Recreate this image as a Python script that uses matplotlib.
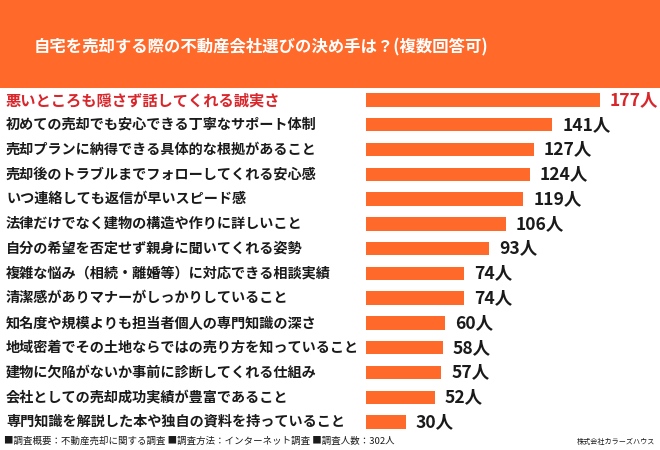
import matplotlib.pyplot as plt
from matplotlib.patches import Rectangle
from matplotlib.transforms import blended_transform_factory

plt.rcParams['font.family'] = ['Noto Sans CJK JP', 'DejaVu Sans']

title = "自宅を売却する際の不動産会社選びの決め手は？(複数回答可)"
labels = [
    "悪いところも隠さず話してくれる誠実さ",
    "初めての売却でも安心できる丁寧なサポート体制",
    "売却プランに納得できる具体的な根拠があること",
    "売却後のトラブルまでフォローしてくれる安心感",
    "いつ連絡しても返信が早いスピード感",
    "法律だけでなく建物の構造や作りに詳しいこと",
    "自分の希望を否定せず親身に聞いてくれる姿勢",
    "複雑な悩み（相続・離婚等）に対応できる相談実績",
    "清潔感がありマナーがしっかりしていること",
    "知名度や規模よりも担当者個人の専門知識の深さ",
    "地域密着でその土地ならではの売り方を知っていること",
    "建物に欠陥がないか事前に診断してくれる仕組み",
    "会社としての売却成功実績が豊富であること",
    "専門知識を解説した本や独自の資料を持っていること",
]
values = [177, 141, 127, 124, 119, 106, 93, 74, 74, 60, 58, 57, 52, 30]
footer = "■調査概要：不動産売却に関する調査 ■調査方法：インターネット調査 ■調査人数：302人"
credit = "株式会社カラーズハウス"

orange = "#FF6A2A"
red = "#D8262B"
dark = "#1A1A1A"

fig = plt.figure(figsize=(6.6, 4.5), dpi=100)
fig.patch.set_facecolor("white")

# header band
fig.patches.append(Rectangle((0, 1 - 88 / 450), 1, 88 / 450, transform=fig.transFigure,
                             facecolor=orange, edgecolor="none", zorder=0))
fig.text(261 / 660, 1 - 47 / 450, title, color="white", fontsize=11.8, fontweight="bold",
         ha="center", va="center")

ax = fig.add_axes([366 / 660, 1 - 434.4 / 450, 294 / 660, 346.8 / 450])
ax.barh(range(len(values)), values, height=0.54, color=orange)
ax.set_xlim(0, 177 * 294 / 234)
ax.set_ylim(len(values) - 0.5, -0.5)
ax.axis("off")

tr = blended_transform_factory(fig.transFigure, ax.transData)
for i, (lab, v) in enumerate(zip(labels, values)):
    c = red if i == 0 else dark
    ax.text(6 / 660, i, lab, transform=tr, color=c, fontsize=11 if i == 0 else 10.2,
            fontweight="bold", ha="left", va="center")
    ax.text(v + 7.5, i, f"{v}人", color=c, fontsize=12.6, fontweight="bold",
            ha="left", va="center", clip_on=False)

fig.text(4 / 660, 1 - 441 / 450, footer, color=dark, fontsize=6.8, ha="left", va="center")
fig.text(655 / 660, 1 - 442 / 450, credit, color=dark, fontsize=5.1, ha="right", va="center")

fig.savefig("out.png", dpi=100)
